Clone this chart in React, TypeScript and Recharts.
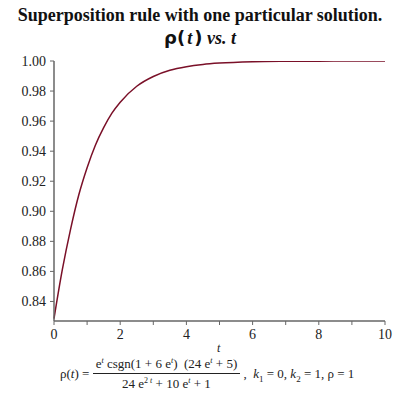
import { LineChart, Line, XAxis, YAxis } from "recharts";

const tValues = [0, 0.25, 0.5, 0.75, 1, 1.25, 1.5, 1.75, 2, 2.5, 3, 3.5, 4, 4.5, 5, 6, 7, 8, 9, 10];
const rhoValues = [
    0.8286, 0.861, 0.888, 0.911, 0.929, 0.944, 0.9557, 0.9653, 0.9726, 0.9832, 0.9897, 0.9938,
    0.9962, 0.9977, 0.9986, 0.9995, 0.9998, 0.9999, 1.0, 1.0,
];
const xTicks = [0, 1, 2, 3, 4, 5, 6, 7, 8, 9, 10];
const yTicks = [0.83, 0.84, 0.85, 0.86, 0.87, 0.88, 0.89, 0.9, 0.91, 0.92, 0.93, 0.94, 0.95, 0.96, 0.97, 0.98, 0.99, 1.0];

const data = tValues.map((t, i) => ({ t, rho: rhoValues[i] }));

const serif = "'Liberation Serif', 'Times New Roman', serif";
const sans = "'DejaVu Sans', sans-serif";

function XTick(props: any) {
    const { x, y, payload } = props;
    if (payload.value % 2 !== 0) return null;
    return (
        <text x={x} y={y + 12} textAnchor="middle" fontFamily={serif} fontSize={14} fill="#222">
            {payload.value}
        </text>
    );
}

function YTick(props: any) {
    const { x, y, payload } = props;
    const v = Math.round(payload.value * 100);
    if (v % 2 !== 0) return null;
    return (
        <text x={x - 2} y={y + 5} textAnchor="end" fontFamily={serif} fontSize={14} fill="#222">
            {payload.value.toFixed(2)}
        </text>
    );
}

const sup = { fontSize: 8, fontStyle: "italic" as const };

export default function App() {
    return (
        <div style={{ position: "absolute", left: 0, top: 0, width: 400, height: 400, background: "#fff", fontFamily: serif }}>
            <div style={{ position: "absolute", top: 5, left: 0, width: 400, textAlign: "center", fontWeight: "bold", fontSize: 18, color: "#111" }}>
                Superposition rule with one particular solution.
            </div>
            <div style={{ position: "absolute", top: 27, left: 0, width: 400, textAlign: "center", fontWeight: "bold", fontSize: 18, color: "#111" }}>
                <span style={{ fontFamily: sans, fontSize: 18 }}>ρ(</span>
                <span style={{ fontStyle: "italic", padding: "0 2px" }}>t</span>
                <span style={{ fontFamily: sans, fontSize: 18 }}>)</span>
                <span style={{ fontStyle: "italic" }}> vs. t</span>
            </div>
            <LineChart width={400} height={400} data={data} margin={{ top: 61, right: 15, bottom: 49, left: 0 }}>
                <XAxis
                    dataKey="t"
                    type="number"
                    domain={[0, 10]}
                    ticks={xTicks}
                    tick={<XTick />}
                    tickSize={4}
                    stroke="#666"
                    axisLine={{ stroke: "#666", strokeWidth: 1.5 }}
                />
                <YAxis
                    type="number"
                    domain={[0.827, 1.0]}
                    ticks={yTicks}
                    tick={<YTick />}
                    tickSize={4}
                    width={54}
                    stroke="#666"
                    axisLine={{ stroke: "#666", strokeWidth: 1.5 }}
                    allowDataOverflow
                />
                <Line
                    type="monotone"
                    dataKey="rho"
                    stroke="#7a1028"
                    strokeWidth={1.5}
                    dot={false}
                    isAnimationActive={false}
                />
            </LineChart>
            <div style={{ position: "absolute", top: 341, left: 217, fontStyle: "italic", fontSize: 12, color: "#222" }}>t</div>
            <div style={{ position: "absolute", top: 356, left: 60, display: "flex", alignItems: "center", fontSize: 13, color: "#222", whiteSpace: "nowrap" }}>
                <span>ρ(<i>t</i>) =&nbsp;</span>
                <span style={{ display: "inline-flex", flexDirection: "column", alignItems: "center" }}>
                    <span style={{ borderBottom: "1px solid #222", padding: "0 3px 1px" }}>
                        e<sup style={sup}>t</sup> csgn(1 + 6 e<sup style={sup}>t</sup>)&nbsp; (24 e<sup style={sup}>t</sup> + 5)
                    </span>
                    <span style={{ paddingTop: 2 }}>
                        24 e<sup style={{ fontSize: 8 }}>2 <i>t</i></sup> + 10 e<sup style={sup}>t</sup> + 1
                    </span>
                </span>
                <span>
                    &nbsp;,&nbsp; <i>k</i><sub style={{ fontSize: 9 }}>1</sub> = 0,&nbsp;<i>k</i><sub style={{ fontSize: 9 }}>2</sub> = 1,&nbsp;ρ = 1
                </span>
            </div>
        </div>
    );
}
